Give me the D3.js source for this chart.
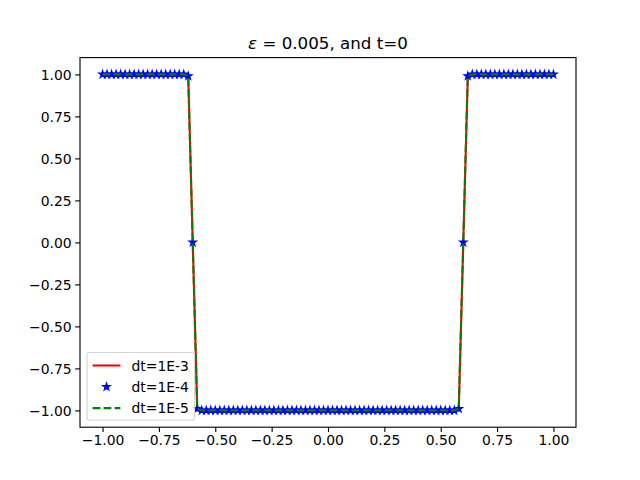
<!DOCTYPE html>
<html>
<head>
<meta charset="utf-8">
<script src="https://cdn.jsdelivr.net/npm/d3@7"></script>
<style>
  html, body { margin: 0; padding: 0; background: #fff; }
  svg { display: block; font-family: 'DejaVu Sans', sans-serif; }
</style>
</head>
<body>
<div id="chart"></div>
<script>
// Grid points (x) and the three solutions at t=0
const xs = [
  -1.00, -0.98, -0.96, -0.94, -0.92, -0.90, -0.88, -0.86, -0.84, -0.82,
  -0.80, -0.78, -0.76, -0.74, -0.72, -0.70, -0.68, -0.66, -0.64, -0.62,
  -0.60, -0.58, -0.56, -0.54, -0.52, -0.50, -0.48, -0.46, -0.44, -0.42,
  -0.40, -0.38, -0.36, -0.34, -0.32, -0.30, -0.28, -0.26, -0.24, -0.22,
  -0.20, -0.18, -0.16, -0.14, -0.12, -0.10, -0.08, -0.06, -0.04, -0.02,
   0.00,  0.02,  0.04,  0.06,  0.08,  0.10,  0.12,  0.14,  0.16,  0.18,
   0.20,  0.22,  0.24,  0.26,  0.28,  0.30,  0.32,  0.34,  0.36,  0.38,
   0.40,  0.42,  0.44,  0.46,  0.48,  0.50,  0.52,  0.54,  0.56,  0.58,
   0.60,  0.62,  0.64,  0.66,  0.68,  0.70,  0.72,  0.74,  0.76,  0.78,
   0.80,  0.82,  0.84,  0.86,  0.88,  0.90,  0.92,  0.94,  0.96,  0.98,
   1.00
];

const yDt3 = [
  1, 1, 1, 1, 1, 1, 1, 1, 1, 1,
  1, 1, 1, 1, 1, 1, 1, 1, 1, 0.99,
  0, -0.99, -1, -1, -1, -1, -1, -1, -1, -1,
  -1, -1, -1, -1, -1, -1, -1, -1, -1, -1,
  -1, -1, -1, -1, -1, -1, -1, -1, -1, -1,
  -1, -1, -1, -1, -1, -1, -1, -1, -1, -1,
  -1, -1, -1, -1, -1, -1, -1, -1, -1, -1,
  -1, -1, -1, -1, -1, -1, -1, -1, -1, -0.99,
  0, 0.99, 1, 1, 1, 1, 1, 1, 1, 1,
  1, 1, 1, 1, 1, 1, 1, 1, 1, 1,
  1
];

const yDt4 = [
  1, 1, 1, 1, 1, 1, 1, 1, 1, 1,
  1, 1, 1, 1, 1, 1, 1, 1, 1, 0.99,
  0, -0.99, -1, -1, -1, -1, -1, -1, -1, -1,
  -1, -1, -1, -1, -1, -1, -1, -1, -1, -1,
  -1, -1, -1, -1, -1, -1, -1, -1, -1, -1,
  -1, -1, -1, -1, -1, -1, -1, -1, -1, -1,
  -1, -1, -1, -1, -1, -1, -1, -1, -1, -1,
  -1, -1, -1, -1, -1, -1, -1, -1, -1, -0.99,
  0, 0.99, 1, 1, 1, 1, 1, 1, 1, 1,
  1, 1, 1, 1, 1, 1, 1, 1, 1, 1,
  1
];

const yDt5 = [
  1, 1, 1, 1, 1, 1, 1, 1, 1, 1,
  1, 1, 1, 1, 1, 1, 1, 1, 1, 0.99,
  0, -0.99, -1, -1, -1, -1, -1, -1, -1, -1,
  -1, -1, -1, -1, -1, -1, -1, -1, -1, -1,
  -1, -1, -1, -1, -1, -1, -1, -1, -1, -1,
  -1, -1, -1, -1, -1, -1, -1, -1, -1, -1,
  -1, -1, -1, -1, -1, -1, -1, -1, -1, -1,
  -1, -1, -1, -1, -1, -1, -1, -1, -1, -0.99,
  0, 0.99, 1, 1, 1, 1, 1, 1, 1, 1,
  1, 1, 1, 1, 1, 1, 1, 1, 1, 1,
  1
];

const seriesLabels = ['dt=1E-3', 'dt=1E-4', 'dt=1E-5'];
const xTicks = [-1.00, -0.75, -0.50, -0.25, 0.00, 0.25, 0.50, 0.75, 1.00];
const yTicks = [-1.00, -0.75, -0.50, -0.25, 0.00, 0.25, 0.50, 0.75, 1.00];

const width = 640;
const height = 480;
const margin = { left: 80, right: 64, top: 57.6, bottom: 52.8 };

const svg = d3.select('#chart')
  .append('svg')
  .attr('width', width)
  .attr('height', height);

const x = d3.scaleLinear()
  .domain([-1.1, 1.1])
  .range([margin.left, width - margin.right]);

const y = d3.scaleLinear()
  .domain([-1.1, 1.1])
  .range([height - margin.bottom, margin.top]);

// Star marker like matplotlib '*', markersize 6
function starPath(r) {
  const inner = r * 0.381966;
  const pts = [];
  for (let i = 0; i < 10; i++) {
    const rad = i % 2 === 0 ? r : inner;
    const a = -Math.PI / 2 + i * Math.PI / 5;
    pts.push([rad * Math.cos(a), rad * Math.sin(a)]);
  }
  return 'M' + pts.map(p => p[0].toFixed(2) + ',' + p[1].toFixed(2)).join('L') + 'Z';
}
const star = starPath(3.9);

const line = d3.line()
  .x(d => x(d[0]))
  .y(d => y(d[1]));

const plot = svg.append('g');

// dt=1E-3 : red solid
plot.append('path')
  .datum(d3.zip(xs, yDt3))
  .attr('d', line)
  .attr('fill', 'none')
  .attr('stroke', '#ff0000')
  .attr('stroke-width', 2.08)
  .attr('stroke-linejoin', 'round')
  .attr('stroke-linecap', 'square');

// dt=1E-4 : blue stars
plot.selectAll('.star')
  .data(d3.zip(xs, yDt4))
  .enter()
  .append('path')
  .attr('class', 'star')
  .attr('transform', d => `translate(${x(d[0])},${y(d[1])})`)
  .attr('d', star)
  .attr('fill', '#0000ff')
  .attr('stroke', '#0000ff')
  .attr('stroke-width', 1.2)
  .attr('stroke-linejoin', 'miter');

// dt=1E-5 : green dashed
plot.append('path')
  .datum(d3.zip(xs, yDt5))
  .attr('d', line)
  .attr('fill', 'none')
  .attr('stroke', '#008000')
  .attr('stroke-width', 2.08)
  .attr('stroke-dasharray', '7.7,3.33');

// Axes
const xAxis = svg.append('g')
  .attr('transform', `translate(0,${height - margin.bottom})`)
  .call(d3.axisBottom(x).tickValues(xTicks).tickFormat(d3.format('.2f')).tickSize(4.86).tickPadding(3.5));

const yAxis = svg.append('g')
  .attr('transform', `translate(${margin.left},0)`)
  .call(d3.axisLeft(y).tickValues(yTicks).tickFormat(d3.format('.2f')).tickSize(4.86).tickPadding(3.5));

[xAxis, yAxis].forEach(g => {
  g.select('.domain').remove();
  g.selectAll('.tick line').attr('stroke', '#000').attr('stroke-width', 1.11);
  g.selectAll('.tick text')
    .attr('fill', '#000')
    .attr('font-family', 'DejaVu Sans, sans-serif')
    .attr('font-size', '13.9px');
});
yAxis.selectAll('.tick text').attr('dy', '0.35em');
xAxis.selectAll('.tick text').text(d => d3.format('.2f')(d).replace('-', '\u2212'));
yAxis.selectAll('.tick text').text(d => d3.format('.2f')(d).replace('-', '\u2212'));

// Spines
svg.append('rect')
  .attr('x', margin.left)
  .attr('y', margin.top)
  .attr('width', width - margin.left - margin.right)
  .attr('height', height - margin.top - margin.bottom)
  .attr('fill', 'none')
  .attr('stroke', '#000')
  .attr('stroke-width', 1.11);

// Title
const title = svg.append('text')
  .attr('x', (margin.left + width - margin.right) / 2)
  .attr('y', margin.top - 8.3)
  .attr('text-anchor', 'middle')
  .attr('font-size', '16.7px')
  .attr('fill', '#000');
title.append('tspan').attr('font-style', 'italic').text('\u03b5');
title.append('tspan').text(' = 0.005, and t=0');

// Legend
const legend = svg.append('g');
legend.append('rect')
  .attr('x', 87)
  .attr('y', 352.5)
  .attr('width', 107.5)
  .attr('height', 67.8)
  .attr('rx', 2.8)
  .attr('fill', 'rgba(255,255,255,0.8)')
  .attr('stroke', '#d5d5d5')
  .attr('stroke-width', 1.11);

const rowY = [365.5, 386.8, 408.1];
const hx0 = 92.6;
const hx1 = 120.4;

legend.append('line')
  .attr('x1', hx0).attr('x2', hx1)
  .attr('y1', rowY[0]).attr('y2', rowY[0])
  .attr('stroke', '#ff0000').attr('stroke-width', 2.08);

legend.append('path')
  .attr('transform', `translate(${(hx0 + hx1) / 2},${rowY[1]})`)
  .attr('d', star)
  .attr('fill', '#0000ff')
  .attr('stroke', '#0000ff')
  .attr('stroke-width', 1.2);

legend.append('line')
  .attr('x1', hx0).attr('x2', hx1)
  .attr('y1', rowY[2]).attr('y2', rowY[2])
  .attr('stroke', '#008000').attr('stroke-width', 2.08)
  .attr('stroke-dasharray', '7.7,3.33');

legend.selectAll('.label')
  .data(seriesLabels)
  .enter()
  .append('text')
  .attr('class', 'label')
  .attr('x', 131.5)
  .attr('y', (d, i) => rowY[i] + 5)
  .attr('font-size', '13.9px')
  .attr('fill', '#000')
  .text(d => d);
</script>
</body>
</html>
